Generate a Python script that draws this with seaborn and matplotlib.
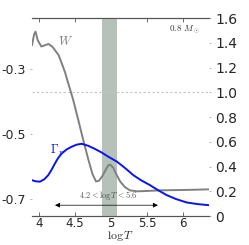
import matplotlib
matplotlib.use('Agg')
import matplotlib.pyplot as plt
import pandas as pd
import seaborn as sns

# values
logT_w = [3.90, 3.93, 3.95, 3.98, 4.03, 4.08, 4.13, 4.18, 4.22, 4.27, 4.31, 4.36, 4.40,
          4.47, 4.54, 4.61, 4.68, 4.74, 4.79, 4.83, 4.875, 4.92, 4.96, 4.99, 5.03,
          5.07, 5.125, 5.19, 5.26, 5.36, 5.5, 5.68, 5.9, 6.1, 6.36]
W = [1.38, 1.47, 1.49, 1.42, 1.37, 1.38, 1.39, 1.37, 1.34, 1.30, 1.24, 1.16, 1.08,
     0.944, 0.784, 0.62, 0.464, 0.34, 0.28, 0.285, 0.32, 0.37, 0.41, 0.415, 0.39,
     0.34, 0.28, 0.235, 0.208, 0.20, 0.203, 0.208, 0.21, 0.212, 0.216]

logT_g = [3.90, 3.95, 4.01, 4.07, 4.125, 4.17, 4.218, 4.26, 4.31, 4.38, 4.45, 4.52,
          4.59, 4.68, 4.77, 4.87, 4.96, 5.08, 5.2, 5.31, 5.42, 5.54, 5.65, 5.77,
          5.9, 6.05, 6.2, 6.36]
gamma = [0.29, 0.281, 0.278, 0.297, 0.33, 0.372, 0.424, 0.466, 0.504, 0.538, 0.56, 0.577,
         0.584, 0.568, 0.544, 0.513, 0.48, 0.44, 0.385, 0.33, 0.288, 0.25, 0.21, 0.17,
         0.138, 0.11, 0.097, 0.088]

band = (4.87, 5.08)
left_ticks = [-0.3, -0.5, -0.7]
right_ticks = [0, 0.2, 0.4, 0.6, 0.8, 1.0, 1.2, 1.4, 1.6]
x_ticks = [4, 4.5, 5, 5.5, 6]

sns.set_style('ticks')
plt.rcParams['font.family'] = ['DejaVu Sans']
plt.rcParams['mathtext.fontset'] = 'cm'

df_w = pd.DataFrame({'logT': logT_w, 'W': W})
df_g = pd.DataFrame({'logT': logT_g, 'gamma': gamma})

fig = plt.figure(figsize=(2.49, 2.45), dpi=100)
ax = fig.add_axes([0.1285, 0.118, 0.7108, 0.8085])
ax2 = ax.twinx()

ax.set_xlim(3.9, 6.36)
ax.set_ylim(-0.7515, -0.1455)
ax.set_yticks(left_ticks)
ax.set_yticklabels(['-0.3', '-0.5', '-0.7'])
ax.set_xticks(x_ticks)
ax.set_xticklabels(['4', '4.5', '5', '5.5', '6'])
ax.tick_params(axis='x', direction='in', top=True, length=3, width=0.6, color='#555555',
               labelsize=8.5, pad=1)
ax.tick_params(axis='y', length=1.5, width=0.6, color='#aaaaaa', labelsize=9, pad=3)
ax.set_xlabel(r'$\log T$', fontsize=8.5, labelpad=-1)

ax2.set_ylim(0, 1.6)
ax2.set_yticks(right_ticks)
ax2.set_yticklabels(['0', '0.2', '0.4', '0.6', '0.8', '1.0', '1.2', '1.4', '1.6'])
ax2.tick_params(axis='y', length=1.5, width=0.6, color='#aaaaaa', labelsize=10, pad=3)

for a in (ax, ax2):
    a.spines['left'].set_visible(False)
    a.spines['right'].set_visible(False)
    a.spines['top'].set_color('#555555')
    a.spines['bottom'].set_color('#555555')
    a.spines['top'].set_linewidth(0.8)
    a.spines['bottom'].set_linewidth(0.8)

ax2.axvspan(band[0], band[1], color='#b5c1b9', lw=0, zorder=0)
ax2.axhline(1.0, color='#c4c4c4', ls=(0, (2, 2)), lw=0.8)

sns.lineplot(data=df_w, x='logT', y='W', ax=ax2, color='#808080', lw=1.4, sort=False)
sns.lineplot(data=df_g, x='logT', y='gamma', ax=ax2, color='#0a14f0', lw=1.4, sort=False)
ax2.set_xlabel('')
ax2.set_ylabel('')
ax.set_ylabel('')

ax2.text(4.36, 1.41, r'$W$', color='#808080', fontsize=9, ha='center', va='center')
ax2.text(4.25, 0.53, r'$\Gamma_r$', color='#0a14f0', fontsize=9, ha='center', va='center')
ax2.text(6.01, 1.50, r'$0.8\ M_\odot$', color='#333333', fontsize=6.5, ha='center', va='center')
ax2.text(4.96, 0.17, r'$4.2 < \log T < 5.6$', color='#555555', fontsize=6, ha='center', va='center')
ax2.annotate('', xy=(4.22, 0.088), xytext=(5.65, 0.088),
             arrowprops=dict(arrowstyle='<|-|>', color='black', lw=0.5,
                             mutation_scale=7, shrinkA=0, shrinkB=0))

fig.savefig('out.png', dpi=100)
